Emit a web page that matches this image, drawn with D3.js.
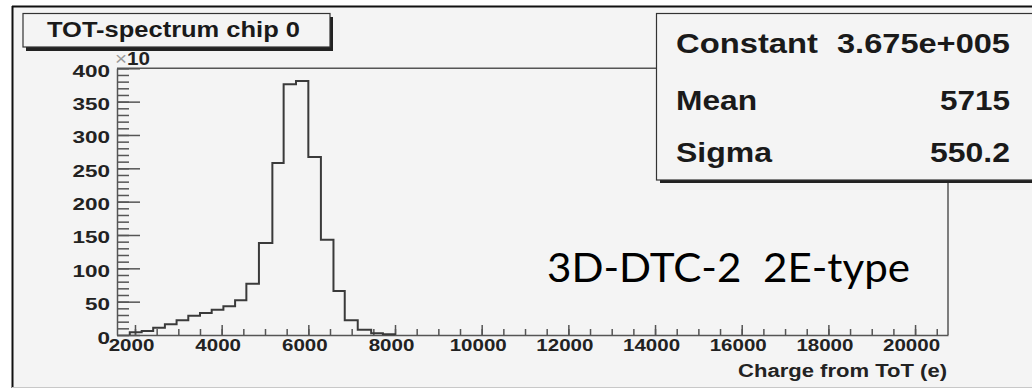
<!doctype html>
<head>
  <meta charset="utf-8">
  <script src="https://cdn.jsdelivr.net/npm/d3@7"></script>
  <style>
    body { margin: 0; background: #fff; }
    text { font-family: "Liberation Sans", Arial, sans-serif; }
  </style>
</head>
<body>
<div id="viz"></div>
<script>

// histogram bins (lower/upper edges in e) and counts (x10)
var binEdges = [1880, 2155, 2420, 2690, 2960, 3230, 3500, 3770, 4040, 4310, 4570,
  4860, 5170, 5430, 5715, 6000, 6290, 6580, 6840, 7140, 7450, 7720, 8000]
var binCounts = [4, 6, 11, 16, 22, 29, 33, 38, 43, 52, 77,
  138, 258, 376, 381, 267, 143, 66, 22, 8, 2.5, 1]

var xTicks = [2000, 4000, 6000, 8000, 10000, 12000, 14000, 16000, 18000, 20000]
var yTicks = [0, 50, 100, 150, 200, 250, 300, 350, 400]

var statNames = ['Constant', 'Mean', 'Sigma']
var statValues = ['3.675e+005', '5715', '550.2']

var title = 'TOT-spectrum chip 0'
var xTitle = 'Charge from ToT (e)'
var note = '3D-DTC-2  2E-type'

var W = 1032, H = 390
var svg = d3.select('#viz').append('svg')
  .attr('width', W)
  .attr('height', H)

// pad background + frame
svg.append('rect').attr('x', 12).attr('y', 6).attr('width', W).attr('height', 381)
  .style('fill', '#f4f4f4')
svg.append('line').attr('x1', 12).attr('x2', W).attr('y1', 6.5).attr('y2', 6.5)
  .style('stroke', '#111').style('stroke-width', 2)
svg.append('line').attr('x1', 12.5).attr('x2', 12.5).attr('y1', 6).attr('y2', 388)
  .style('stroke', '#111').style('stroke-width', 2)
svg.append('line').attr('x1', 12).attr('x2', W).attr('y1', 387.5).attr('y2', 387.5)
  .style('stroke', '#c8c8c8').style('stroke-width', 1)

var x = d3.scaleLinear().domain([1585, 20760]).range([117, 948])
var y = d3.scaleLinear().domain([0, 400]).range([335, 68.3])

// plot frame (top + right)
svg.append('path')
  .attr('d', 'M' + x.range()[0] + ',' + y(400) + 'H' + x.range()[1] + 'V' + y(0))
  .style('fill', 'none').style('stroke', '#555').style('stroke-width', 1.5)

// y axis minor ticks
svg.append('g').attr('transform', 'translate(117,0)')
  .call(d3.axisLeft(y).tickValues(d3.range(0, 401, 10)).tickSize(-12).tickSizeOuter(0).tickFormat(''))
  .call(function(g) { g.select('.domain').remove() })
  .selectAll('line').style('stroke', '#555').style('stroke-width', 1.5)

// y axis major
var gy = svg.append('g').attr('transform', 'translate(117,0)')
  .call(d3.axisLeft(y).tickValues(yTicks).tickSize(-23).tickSizeOuter(0).tickPadding(7))
gy.select('.domain').style('stroke', '#555').style('stroke-width', 1.5)
gy.selectAll('line').style('stroke', '#555').style('stroke-width', 1.5)
gy.selectAll('text')
  .attr('dy', '0.5em')
  .style('font-size', '16px').style('font-weight', 'bold').style('fill', '#222')
  .attr('textLength', function(d) { return String(d).length * 12.5 })
  .attr('lengthAdjust', 'spacingAndGlyphs')

// x axis minor ticks
svg.append('g').attr('transform', 'translate(0,335)')
  .call(d3.axisBottom(x).tickValues(d3.range(2000, 20501, 500)).tickSize(-6).tickSizeOuter(0).tickFormat(''))
  .call(function(g) { g.select('.domain').remove() })
  .selectAll('line').style('stroke', '#555').style('stroke-width', 1.5)

// x axis major
var gx = svg.append('g').attr('transform', 'translate(0,335)')
  .call(d3.axisBottom(x).tickValues(xTicks).tickSize(-10).tickSizeOuter(0).tickPadding(5).tickFormat(d3.format('d')))
gx.select('.domain').style('stroke', '#555').style('stroke-width', 1.5)
gx.selectAll('line').style('stroke', '#555').style('stroke-width', 1.5)
gx.selectAll('text')
  .attr('dx', -4)
  .style('font-size', '16px').style('font-weight', 'bold').style('fill', '#222')
  .attr('textLength', function(d) { return String(d).length * 11.4 })
  .attr('lengthAdjust', 'spacingAndGlyphs')

// x10 exponent
var ex = svg.append('text').attr('x', 115).attr('y', 65).style('font-size', '18px')
  .attr('textLength', 35).attr('lengthAdjust', 'spacingAndGlyphs')
ex.append('tspan').text('\u00d7').style('fill', '#999')
ex.append('tspan').text('10').style('fill', '#222').style('font-weight', 'bold')

// histogram step line
var d = 'M' + x(binEdges[0]) + ',' + y(0)
binCounts.forEach(function(c, i) {
  d += 'V' + y(c) + 'H' + x(binEdges[i + 1])
})
d += 'V' + y(0)
svg.append('path').attr('d', d)
  .style('fill', 'none').style('stroke', '#3a3a3a').style('stroke-width', 2)

// x axis title
svg.append('text').attr('x', 947).attr('y', 377)
  .attr('text-anchor', 'end')
  .style('font-size', '18px').style('font-weight', 'bold').style('fill', '#222')
  .attr('textLength', 209).attr('lengthAdjust', 'spacingAndGlyphs')
  .text(xTitle)

// title box
svg.append('rect').attr('x', 26).attr('y', 17).attr('width', 307).attr('height', 34).style('fill', '#222')
svg.append('rect').attr('x', 23).attr('y', 13.5).attr('width', 307).attr('height', 33.5)
  .style('fill', '#f4f4f4').style('stroke', '#333').style('stroke-width', 1.2)
svg.append('text').attr('x', 47).attr('y', 37)
  .style('font-size', '22px').style('font-weight', 'bold').style('fill', '#1a1a1a')
  .attr('textLength', 253).attr('lengthAdjust', 'spacingAndGlyphs')
  .text(title)

// stats box
svg.append('rect').attr('x', 660).attr('y', 17).attr('width', 400).attr('height', 166).style('fill', '#222')
svg.append('rect').attr('x', 656.5).attr('y', 13.5).attr('width', 400).attr('height', 166.5)
  .style('fill', '#f4f4f4').style('stroke', '#333').style('stroke-width', 1.2)
var nameW = [142, 81, 96], valW = [173, 70, 80], rowY = [53, 110, 162]
statNames.forEach(function(n, i) {
  svg.append('text').attr('x', 676).attr('y', rowY[i])
    .style('font-size', '28px').style('font-weight', 'bold').style('fill', '#1a1a1a')
    .attr('textLength', nameW[i]).attr('lengthAdjust', 'spacingAndGlyphs')
    .text(n)
  svg.append('text').attr('x', 1010).attr('y', rowY[i]).attr('text-anchor', 'end')
    .style('font-size', '28px').style('font-weight', 'bold').style('fill', '#1a1a1a')
    .attr('textLength', valW[i]).attr('lengthAdjust', 'spacingAndGlyphs')
    .text(statValues[i])
})

// annotation
svg.append('text').attr('x', 547).attr('y', 282)
  .style('font-family', 'Lato, "Open Sans", sans-serif')
  .style('font-size', '40px').style('fill', '#000').style('white-space', 'pre')
  .attr('textLength', 363).attr('lengthAdjust', 'spacingAndGlyphs')
  .text(note)

</script>
</body>
